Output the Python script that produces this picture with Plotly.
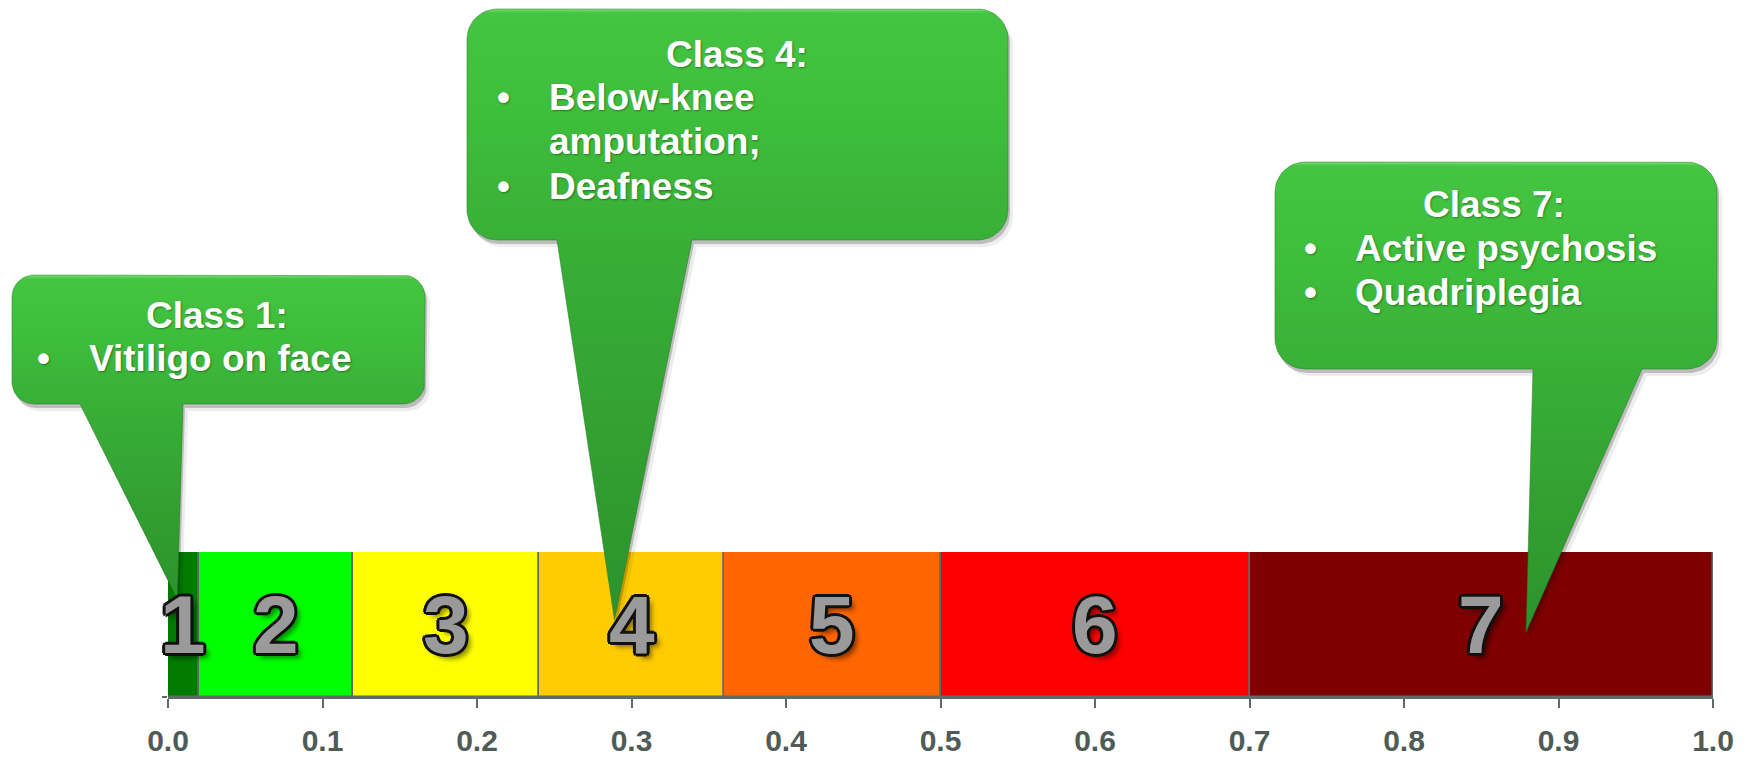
import math
import plotly.graph_objects as go

# ---- data: impairment classes on a 0-1 severity scale ----
classes = ["1", "2", "3", "4", "5", "6", "7"]
upper_bounds = [0.02, 0.12, 0.24, 0.36, 0.50, 0.70, 1.00]
class_colors = ["#007a00", "#00ff00", "#ffff00", "#ffcc00", "#ff6600", "#ff0000", "#7f0000"]
tick_values = [0.0, 0.1, 0.2, 0.3, 0.4, 0.5, 0.6, 0.7, 0.8, 0.9, 1.0]

# callout texts and the scale position each one points at
callout_titles = ["Class 1:", "Class 4:", "Class 7:"]
callout_items = [
    [["Vitiligo on face"]],
    [["Below-knee", "amputation;"], ["Deafness"]],
    [["Active psychosis"], ["Quadriplegia"]],
]
callout_targets = [0.006, 0.289, 0.879]

lower_bounds = [0.0] + upper_bounds[:-1]
widths = [u - l for l, u in zip(lower_bounds, upper_bounds)]
mids = [(l + u) / 2 for l, u in zip(lower_bounds, upper_bounds)]

# ---- canvas geometry (pixels) ----
W, H = 1752, 761
X0, X1 = 168, 1713          # horizontal extent of the scale
BAR_TOP, BAR_BOT = 552, 697  # vertical extent of the bar
EDGE = "#5f6b65"

# bubble boxes: left, top, right, bottom, corner radius, pointer base x0/x1, tip y
bubble_boxes = [
    dict(l=12, t=275, r=425, b=404, rad=22, p0=80, p1=183, tip_y=599),
    dict(l=467, t=9, r=1008, b=240, rad=30, p0=557, p1=692, tip_y=620),
    dict(l=1275, t=162, r=1717, b=369, rad=30, p0=1533, p1=1642, tip_y=632),
]
# text placement inside each bubble: title centre x, title y, bullet x, text x, first item y
text_layout = [
    dict(tx=217, ty=315, bx=43, ix=87, iy=358),
    dict(tx=737, ty=54, bx=503, ix=547, iy=97),
    dict(tx=1494, ty=204, bx=1310, ix=1353, iy=248),
]
LINE_STEP = 44.5


def to_px(v):
    return X0 + v * (X1 - X0)


def bubble_outline(box, tip_x):
    l, t, r, b, rad = box["l"], box["t"], box["r"], box["b"], box["rad"]
    pts = []

    def arc(cx, cy, a0, a1, n=12):
        for i in range(n + 1):
            a = a0 + (a1 - a0) * i / n
            pts.append((cx + rad * math.cos(a), cy + rad * math.sin(a)))

    arc(l + rad, t + rad, math.pi, 1.5 * math.pi)
    arc(r - rad, t + rad, 1.5 * math.pi, 2 * math.pi)
    arc(r - rad, b - rad, 0, 0.5 * math.pi)
    pts.append((box["p1"], b))
    pts.append((tip_x, box["tip_y"]))
    pts.append((box["p0"], b))
    arc(l + rad, b - rad, 0.5 * math.pi, math.pi)
    pts.append(pts[0])
    xs = [p[0] for p in pts]
    ys = [H - p[1] for p in pts]
    return xs, ys


fig = go.Figure()

# the class scale as one stacked horizontal bar
fig.add_trace(go.Bar(
    orientation="h", y=[0] * len(classes), x=widths, base=lower_bounds, width=1,
    marker=dict(color=class_colors, line=dict(color=EDGE, width=1.5)),
    hoverinfo="skip", showlegend=False, xaxis="x", yaxis="y",
))

# speech bubbles (drawn on a full-canvas pixel overlay)
for box, target in zip(bubble_boxes, callout_targets):
    tip_x = to_px(target)
    xs, ys = bubble_outline(box, tip_x)
    for dx, dy, col in [(5, 7, "rgba(0,0,0,0.07)"), (2, 4, "rgba(0,0,0,0.2)")]:
        fig.add_trace(go.Scatter(
            x=[x + dx for x in xs], y=[y - dy for y in ys], mode="lines",
            fill="toself", fillcolor=col, line=dict(width=0),
            hoverinfo="skip", showlegend=False, xaxis="x2", yaxis="y2",
        ))
    total = box["tip_y"] - box["t"]
    fb = (box["tip_y"] - box["b"]) / total
    fe = 1 - 4 / total
    fig.add_trace(go.Scatter(
        x=xs, y=ys, mode="lines", fill="toself",
        fillgradient=dict(type="vertical", colorscale=[
            [0, "#2c922c"], [fb, "#39af37"], [fb + (1 - fb) * 0.5, "#3ebd3b"],
            [fe, "#44c541"], [1, "#7ade76"],
        ]),
        line=dict(width=1, color="rgba(35,120,35,0.5)"),
        hoverinfo="skip", showlegend=False, xaxis="x2", yaxis="y2",
    ))

annotations = []

# class numbers centred in their segments
outline = ", ".join(
    f"{dx}px {dy}px 0 #111" for dx, dy in
    [(-3, 0), (3, 0), (0, -3), (0, 3), (-2.2, -2.2), (2.2, -2.2), (-2.2, 2.2), (2.2, 2.2)]
) + ", 5px 5px 5px rgba(0,0,0,0.45)"
for cls, m in zip(classes, mids):
    annotations.append(dict(
        x=m, y=0, xref="x", yref="y", text=cls, showarrow=False,
        xanchor="center", yanchor="middle",
        font=dict(family="Liberation Sans, Arial, sans-serif", size=82,
                  color="#9a9a9a", weight="bold", shadow=outline),
    ))

# bubble texts
txt_font = dict(family="Liberation Sans, Arial, sans-serif", size=37, color="white",
                weight="bold", shadow="1px 1px 2px rgba(0,0,0,0.35)")
for title, items, lay in zip(callout_titles, callout_items, text_layout):
    annotations.append(dict(
        x=lay["tx"], y=H - lay["ty"], xref="x2", yref="y2", text=title,
        showarrow=False, xanchor="center", yanchor="middle", font=txt_font,
    ))
    y = lay["iy"]
    for item in items:
        annotations.append(dict(
            x=lay["bx"], y=H - y, xref="x2", yref="y2", text="•",
            showarrow=False, xanchor="center", yanchor="middle", font=txt_font,
        ))
        for line in item:
            annotations.append(dict(
                x=lay["ix"], y=H - y, xref="x2", yref="y2", text=line,
                showarrow=False, xanchor="left", yanchor="middle", font=txt_font,
            ))
            y += LINE_STEP

fig.update_layout(
    width=W, height=H, margin=dict(l=0, r=0, t=0, b=0, autoexpand=False),
    paper_bgcolor="white", plot_bgcolor="rgba(0,0,0,0)",
    showlegend=False, bargap=0, annotations=annotations,
    xaxis=dict(
        domain=[X0 / W, X1 / W], range=[0, 1], anchor="y",
        tickvals=tick_values, ticktext=[f"{v:.1f}" for v in tick_values],
        ticks="outside", ticklen=9, tickwidth=1.5, tickcolor=EDGE,
        showline=True, linecolor=EDGE, linewidth=2,
        showgrid=False, zeroline=False, ticklabelstandoff=7,
        tickfont=dict(family="Liberation Sans, Arial, sans-serif", size=30,
                      color="#4f5c56", weight="bold"),
        fixedrange=True,
    ),
    yaxis=dict(
        domain=[(H - BAR_BOT) / H, (H - BAR_TOP) / H], range=[-0.5, 0.5], anchor="x",
        tickvals=[-0.5], ticks="outside", ticklen=5, tickwidth=1.5, tickcolor=EDGE,
        showticklabels=False, showgrid=False, zeroline=False, showline=False,
        fixedrange=True,
    ),
    xaxis2=dict(domain=[0, 1], range=[0, W], visible=False, anchor="y2", fixedrange=True),
    yaxis2=dict(domain=[0, 1], range=[0, H], visible=False, anchor="x2", fixedrange=True),
)

fig.write_html("out.html")
